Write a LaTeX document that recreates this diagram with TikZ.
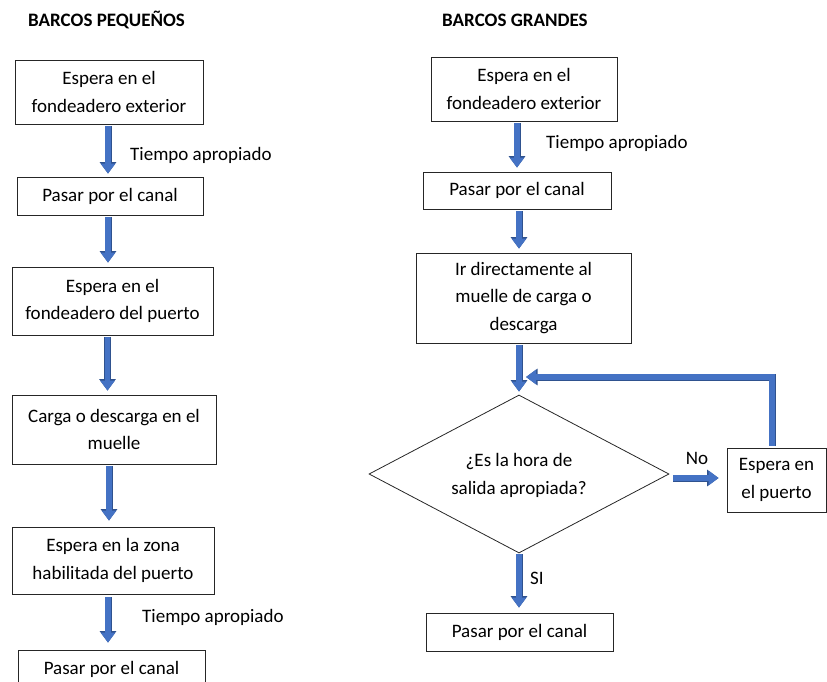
\documentclass[tikz,border=0pt]{standalone}
\usepackage{fontspec}
\setmainfont{Carlito}
\usetikzlibrary{arrows.meta,shapes.geometric}
\definecolor{arrfill}{HTML}{4472C4}
\definecolor{arrline}{HTML}{2F528F}
\tikzset{
  box/.style={draw=black!85, line width=0.8pt, inner sep=0pt, align=center,
    font=\fontsize{19}{27.5}\selectfont},
  lbl/.style={inner sep=0pt, font=\fontsize{19}{22}\selectfont},
  ttl/.style={inner sep=0pt, font=\fontsize{19}{22}\selectfont\bfseries},
  barrow/.style={line width=5.5pt, draw=arrfill, line join=miter,
    -{Triangle[width=14pt,length=10pt,fill=arrfill]},
    preaction={draw=arrline, line width=7pt, line join=miter,
      -{Triangle[width=16pt,length=11.5pt,fill=arrline]}}},
}
\begin{document}
\begin{tikzpicture}[x=1pt,y=-1pt]
\useasboundingbox (0,0) rectangle (827,682);
% titles
\node[ttl, anchor=west] (t1) at (28,20) {BARCOS PEQUEÑOS};
\node[ttl, anchor=west] (t2) at (442,20) {BARCOS GRANDES};
% left column
\node[box, minimum width=188, minimum height=64] (L1) at (109,92) {Espera en el\\fondeadero exterior};
\node[box, minimum width=186, minimum height=38] (L2) at (110,196) {Pasar por el canal};
\node[box, minimum width=201, minimum height=68] (L3) at (112.5,301) {Espera en el\\fondeadero del puerto};
\node[box, minimum width=204, minimum height=69] (L4) at (114,429.5) {Carga o descarga en el\\muelle};
\node[box, minimum width=202, minimum height=67] (L5) at (113,560.5) {Espera en la zona\\habilitada del puerto};
\node[box, minimum width=187, minimum height=38] (L6) at (111.5,669) {Pasar por el canal};
\node[lbl, anchor=west] (lt1) at (130,155) {Tiempo apropiado};
\node[lbl, anchor=west] (lt2) at (142,617) {Tiempo apropiado};
\draw[barrow, shorten <=2pt, shorten >=3pt] ([xshift=-1pt]L1.south) -- ([xshift=-1pt]L1.south |- L2.north);
\draw[barrow, shorten <=2pt, shorten >=4pt] ([xshift=-2pt]L2.south) -- ([xshift=-2pt]L2.south |- L3.north);
\draw[barrow, shorten <=2pt, shorten >=4pt] ([xshift=-5pt]L3.south) -- ([xshift=-5pt]L3.south |- L4.north);
\draw[barrow, shorten <=2pt, shorten >=6pt] ([xshift=-5pt]L4.south) -- ([xshift=-5pt]L4.south |- L5.north);
\draw[barrow, shorten <=3pt, shorten >=7pt] ([xshift=-5pt]L5.south) -- ([xshift=-5pt]L5.south |- L6.north);
% right column
\node[box, minimum width=186, minimum height=64] (R1) at (524,89) {Espera en el\\fondeadero exterior};
\node[box, minimum width=188, minimum height=37] (R2) at (517,190.5) {Pasar por el canal};
\node[box, minimum width=215, minimum height=90] (R3) at (523.5,298) {Ir directamente al\\muelle de carga o\\descarga};
\node[draw=black!85, line width=0.8pt, diamond, inner sep=0pt, minimum width=300, minimum height=158,
  label={[inner sep=0pt, align=center, font=\fontsize{19}{27.5}\selectfont, yshift=-1.5pt]center:¿Es la hora de\\salida apropiada?}] (D) at (519,474) {};
\node[box, minimum width=99, minimum height=64] (R4) at (776.5,480) {Espera en\\el puerto};
\node[box, minimum width=187, minimum height=38] (R5) at (519.5,632) {Pasar por el canal};
\node[lbl, anchor=west] (rt1) at (546,143) {Tiempo apropiado};
\node[lbl] (no) at (697,458) {No};
\node[lbl] (si) at (537,578) {SI};
\coordinate (loopend) at (526,377);
\draw[barrow, shorten <=2pt, shorten >=4pt] ([xshift=-7pt]R1.south) -- ([xshift=-7pt]R1.south |- R2.north);
\draw[barrow, shorten <=2pt, shorten >=4pt] ([xshift=2pt]R2.south) -- ([xshift=2pt]R2.south |- R3.north);
\draw[barrow, shorten <=2pt, shorten >=3pt] ([xshift=-4.5pt]R3.south) -- (D.north);
\draw[barrow, shorten <=2pt] ([xshift=-4.5pt]R4.north) |- (loopend);
\draw[barrow, shorten <=4pt, shorten >=8pt] ([yshift=-4pt]D.east) -- ([yshift=-4pt]D.east -| R4.west);
\draw[barrow, shorten <=1pt, shorten >=5pt] (D.south) -- (D.south |- R5.north);
\end{tikzpicture}
\end{document}
